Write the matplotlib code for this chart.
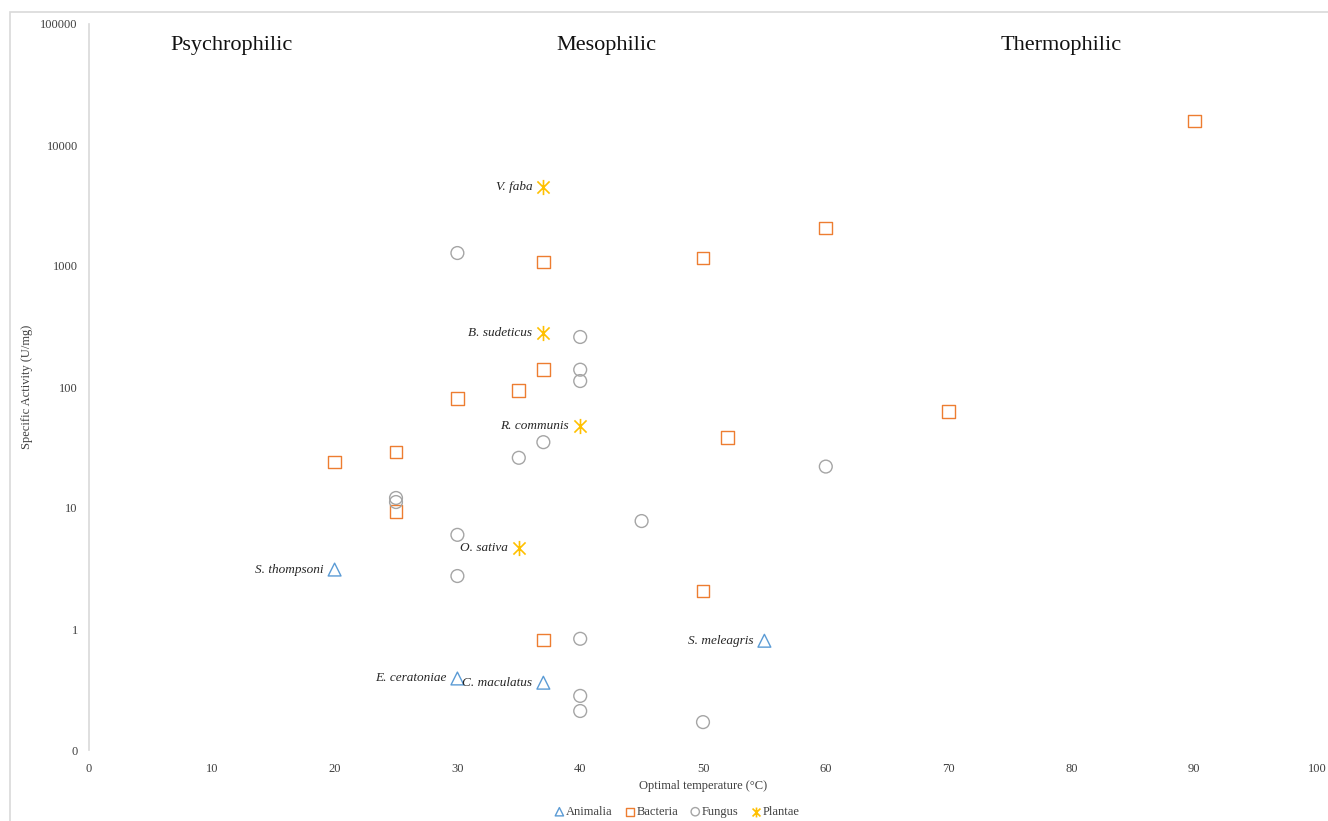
import numpy as np
import matplotlib
matplotlib.use("Agg")
import matplotlib.pyplot as plt
from matplotlib.path import Path
from matplotlib.patches import Rectangle
from matplotlib.ticker import FixedLocator, FixedFormatter, NullLocator

plt.rcParams['font.family'] = ['Liberation Serif', 'DejaVu Serif']

# data (x = optimal temperature, y = specific activity)
animalia_t = [20, 30, 37, 55]
animalia_a = [3.1, 0.39, 0.36, 0.80]
animalia_names = ["S. thompsoni", "E. ceratoniae", "C. maculatus", "S. meleagris"]

bacteria_t = [20, 25, 25, 30, 35, 37, 37, 37, 50, 50, 52, 60, 70, 90]
bacteria_a = [24, 29, 9.4, 80, 93, 139, 1080, 0.81, 1165, 2.06, 38, 2060, 63, 15800]

fungus_t = [25, 25, 30, 30, 30, 35, 37, 40, 40, 40, 40, 40, 40, 45, 50, 60]
fungus_a = [12.1, 11.2, 1280, 6.0, 2.74, 26, 35, 259, 139, 112, 0.83, 0.28, 0.21, 7.8, 0.17, 22]

plantae_t = [37, 37, 40, 35]
plantae_a = [4500, 280, 48, 4.7]
plantae_names = ["V. faba", "B. sudeticus", "R. communis", "O. sativa"]

regions = ["Psychrophilic", "Mesophilic", "Thermophilic"]
region_x = [11.6, 42.1, 79.2]

yticks = [0.1, 1, 10, 100, 1000, 10000, 100000]
ytick_labels = ["0", "1", "10", "100", "1000", "10000", "100000"]

blue = "#5B9BD5"
orange = "#ED7D31"
gray = "#A5A5A5"
yellow = "#FFC000"

# excel style star: vertical bar plus an X
star = Path([(0, -1), (0, 1), (-0.8, -0.8), (0.8, 0.8), (-0.8, 0.8), (0.8, -0.8)],
            [Path.MOVETO, Path.LINETO, Path.MOVETO, Path.LINETO, Path.MOVETO, Path.LINETO])

fig = plt.figure(figsize=(13.28, 8.21), dpi=100)
ax = fig.add_axes([89/1328, 1-750/821, (1317-89)/1328, (750-24)/821])

# chart border (cut off at right and bottom)
fig.patches.append(Rectangle((10/1328, -0.1), 1.2, 1-12/821+0.1, transform=fig.transFigure,
                             fill=False, edgecolor="#D9D9D9", linewidth=1.2))

ax.scatter(animalia_t, animalia_a, marker="^", s=85, facecolors="none", edgecolors=blue,
           linewidths=1.0, label="Animalia", zorder=3)
ax.scatter(bacteria_t, bacteria_a, marker="s", s=85, facecolors="none", edgecolors=orange,
           linewidths=1.0, label="Bacteria", zorder=3)
ax.scatter(fungus_t, fungus_a, marker="o", s=85, facecolors="none", edgecolors=gray,
           linewidths=1.0, label="Fungus", zorder=3)
ax.scatter(plantae_t, plantae_a, marker=star, s=120, color=yellow,
           linewidths=1.2, label="Plantae", zorder=3)

for t, a, n in zip(animalia_t + plantae_t, animalia_a + plantae_a, animalia_names + plantae_names):
    ax.annotate(n, (t, a), xytext=(-8, 0), textcoords="offset points", ha="right", va="center",
                fontsize=9.5, style="italic", color="#262626")

for name, x in zip(regions, region_x):
    ax.text(x, 66000, name, ha="center", va="center", fontsize=16, color="#111111")

ax.set_xlim(0, 100)
ax.set_yscale("log")
ax.set_ylim(0.1, 100000)
ax.set_xticks(np.arange(0, 101, 10))
ax.yaxis.set_major_locator(FixedLocator(yticks))
ax.yaxis.set_major_formatter(FixedFormatter(ytick_labels))
ax.yaxis.set_minor_locator(NullLocator())
ax.tick_params(axis="both", length=0, labelsize=9, colors="#404040")
ax.tick_params(axis="x", pad=9)
ax.tick_params(axis="y", pad=8)

for s in ["top", "right", "bottom"]:
    ax.spines[s].set_visible(False)
ax.spines["left"].set_color("#D9D9D9")
ax.spines["left"].set_linewidth(1.2)

ax.set_xlabel("Optimal temperature (°C)", fontsize=9, color="#404040", labelpad=4)
ax.set_ylabel("Specific Activity (U/mg)", fontsize=9, color="#404040")
ax.yaxis.set_label_coords((33 - 89)/1228, 0.5)

leg = fig.legend(loc="center", bbox_to_anchor=(676/1328, 1-812/821), ncol=4, frameon=False,
                 fontsize=9, handletextpad=0.0, columnspacing=0.8, markerscale=0.65,
                 handlelength=1.1, labelcolor="#404040")

fig.savefig("out.png", dpi=100)
